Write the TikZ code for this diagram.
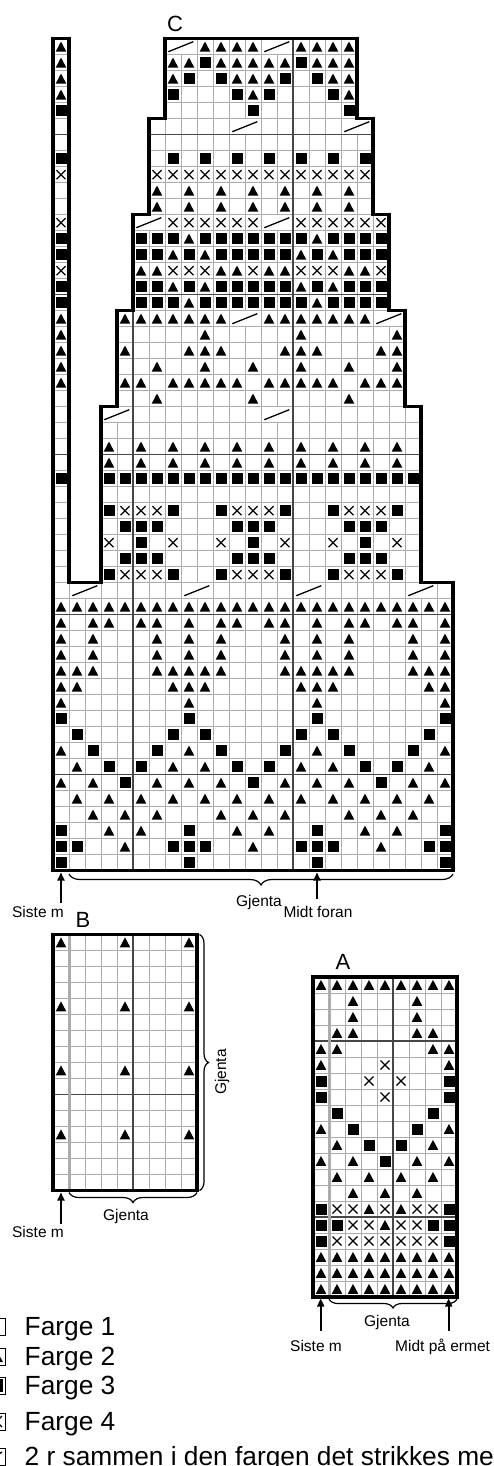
\documentclass[tikz,border=0pt]{standalone}
\usepackage{fontspec}
\setmainfont{Liberation Sans}
\usetikzlibrary{arrows.meta,decorations.pathreplacing}
\tikzset{
 gridl/.style={draw=gray!65, line width=0.8pt},
 darkl/.style={draw=black!72, line width=1.1pt},
 sepl/.style={draw=gray!65, line width=3pt},
 border/.style={draw=black, line width=3.2pt, line join=miter},
 symfill/.style={fill=black},
 symline/.style={draw=black, line width=1.3pt},
 ktog/.style={draw=black, line width=1.3pt},
 lbl/.style={font=\fontsize{15.5}{18}\selectfont, inner sep=0pt, anchor=base},
 ttl/.style={font=\fontsize{22}{26}\selectfont, inner sep=0pt, anchor=base},
 leg/.style={font=\fontsize{26.3}{30}\selectfont, inner sep=0pt, anchor=base west},
 arr/.style={-{Triangle[width=7pt,length=8pt]}, line width=1.8pt},
 brcdown/.style={decorate, decoration={brace, mirror, amplitude=#1}, line width=1.2pt},
 brcright/.style={decorate, decoration={brace, amplitude=#1}, line width=1.2pt},
 legbox/.style={draw=black, line width=1pt},
}
% grid block: x0, ytop, ncols, nrows
\newcommand\gblock[4]{%
 \foreach \gi in {0,...,#3} {\draw[gridl] (#1+16*\gi,#2) -- ++(0,16*#4);}
 \foreach \gj in {0,...,#4} {\draw[gridl] (#1,#2+16*\gj) -- ++(16*#3,0);}
}
% cell row: x0, ybottom, row, first col, list
\newcommand\cellrow[5]{%
 \foreach \s [count=\ci from #4] in {#5}{%
  \pgfmathsetmacro\cx{#1+16*\ci+8}%
  \pgfmathsetmacro\cy{#2-16*#3+8}%
  \if\s t\path[symfill] (\cx-5.3,\cy+4.9) -- (\cx+5.3,\cy+4.9) -- (\cx,\cy-5.1) -- cycle;\fi
  \if\s s\path[symfill] (\cx-5.5,\cy-5.5) rectangle (\cx+5.5,\cy+5.5);\fi
  \if\s x\draw[symline] (\cx-4.5,\cy-4.5) -- (\cx+4.5,\cy+4.5) (\cx-4.5,\cy+4.5) -- (\cx+4.5,\cy-4.5);\fi
  \if\s k\fill[white] (\cx-7.3,\cy-7.3) rectangle (\cx+23.3,\cy+7.3);
   \draw[ktog] (\cx-4.7,\cy+5) -- (\cx+20.3,\cy-5);\fi
 }}
\newcommand\crow[3]{\cellrow{53}{870.7}{#1}{#2}{#3}}
\newcommand\arow[2]{\cellrow{313}{1297}{#1}{0}{#2}}
\begin{document}
\begin{tikzpicture}[x=1pt,y=-1pt]
\useasboundingbox (0,0) rectangle (494,1466);
\clip (0,0) rectangle (494,1466);
\fill[white] (0,0) rectangle (494,1466);

% ===== Chart C grid =====
\gblock{53}{582.7}{25}{18}
\gblock{53}{38.7}{1}{34}
\gblock{101}{406.7}{20}{11}
\gblock{117}{310.7}{18}{6}
\gblock{133}{214.7}{16}{6}
\gblock{149}{118.7}{14}{6}
\gblock{165}{38.7}{12}{5}
\draw[darkl] (133,870.7) -- (133,214.7);
\draw[darkl] (293,870.7) -- (293,38.7);
\draw[darkl] (53,774.7) -- (453,774.7);
\draw[darkl] (53,614.7) -- (453,614.7);
\draw[darkl] (101,454.7) -- (421,454.7) (53,454.7) -- (69,454.7);
\draw[darkl] (133,294.7) -- (389,294.7) (53,294.7) -- (69,294.7);
\draw[darkl] (149,134.7) -- (373,134.7) (53,134.7) -- (69,134.7);

% rows 1-18
\crow{1}{0}{s,o,o,o,o,o,o,o,s,o,o,o,o,o,o,o,s,o,o,o,o,o,o,o,s}
\crow{2}{0}{s,s,o,o,t,o,o,s,s,s,o,o,t,o,o,s,s,s,o,o,t,o,o,s,s}
\crow{3}{0}{s,o,o,t,o,t,o,o,s,o,o,t,o,t,o,o,s,o,o,t,o,t,o,o,s}
\crow{4}{0}{o,o,t,o,t,o,t,o,o,o,t,o,t,o,t,o,o,o,t,o,t,o,t,o,o}
\crow{5}{0}{o,t,o,t,o,t,o,t,o,t,o,t,o,t,o,t,o,t,o,t,o,t,o,t,o}
\crow{6}{0}{t,o,t,o,s,o,t,o,t,o,t,o,s,o,t,o,t,o,t,o,s,o,t,o,t}
\crow{7}{0}{o,t,o,s,o,s,o,t,o,t,o,s,o,s,o,t,o,t,o,s,o,s,o,t,o}
\crow{8}{0}{t,o,s,o,o,o,s,o,t,o,s,o,o,o,s,o,t,o,s,o,o,o,s,o,t}
\crow{9}{0}{o,s,o,o,o,o,o,s,o,s,o,o,o,o,o,s,o,s,o,o,o,o,o,s,o}
\crow{10}{0}{s,o,o,o,o,o,o,o,s,o,o,o,o,o,o,o,s,o,o,o,o,o,o,o,s}
\crow{11}{0}{t,o,o,o,o,o,o,o,t,o,o,o,o,o,o,o,t,o,o,o,o,o,o,o,t}
\crow{12}{0}{t,t,o,o,o,o,o,t,t,t,o,o,o,o,o,t,t,t,o,o,o,o,o,t,t}
\crow{13}{0}{t,t,t,o,o,o,t,t,t,t,t,o,o,o,t,t,t,t,t,o,o,o,t,t,t}
\crow{14}{0}{t,o,t,o,o,o,t,o,t,o,t,o,o,o,t,o,t,o,t,o,o,o,t,o,t}
\crow{15}{0}{t,o,t,o,o,o,t,o,t,o,t,o,o,o,t,o,t,o,t,o,o,o,t,o,t}
\crow{16}{0}{t,o,t,t,o,t,t,o,t,o,t,t,o,t,t,o,t,o,t,t,o,t,t,o,t}
\crow{17}{0}{t,t,t,t,t,t,t,t,t,t,t,t,t,t,t,t,t,t,t,t,t,t,t,t,t}
\crow{18}{0}{o,k,n,o,o,o,o,o,k,n,o,o,o,o,o,k,n,o,o,o,o,o,k,n,o}
% rows 19-29
\crow{19}{3}{s,x,x,x,s,o,o,s,x,x,x,s,o,o,s,x,x,x,s,o}
\crow{20}{3}{o,s,s,s,o,o,o,o,s,s,s,o,o,o,o,s,s,s,o,o}
\crow{21}{3}{x,o,s,o,x,o,o,x,o,s,o,x,o,o,x,o,s,o,x,o}
\crow{22}{3}{o,s,s,s,o,o,o,o,s,s,s,o,o,o,o,s,s,s,o,o}
\crow{23}{3}{s,x,x,x,s,o,o,s,x,x,x,s,o,o,s,x,x,x,s,o}
\crow{25}{3}{s,s,s,s,s,s,s,s,s,s,s,s,s,s,s,s,s,s,s,s}
\crow{26}{3}{t,o,t,o,t,o,t,o,t,o,t,o,t,o,t,o,t,o,t,o}
\crow{27}{3}{t,o,t,o,t,o,t,o,t,o,t,o,t,o,t,o,t,o,t,o}
\crow{29}{3}{k,n,o,o,o,o,o,o,o,o,k,n}
% rows 30-35
\crow{30}{4}{o,o,t,o,o,o,o,o,t,o,o,o,o,o,t,o,o,o}
\crow{31}{4}{t,t,o,t,t,t,t,t,o,t,t,t,t,t,o,t,t,t}
\crow{32}{4}{o,o,t,o,o,t,o,o,t,o,o,t,o,o,t,o,o,t}
\crow{33}{4}{t,o,o,o,t,t,t,o,o,o,t,t,t,o,o,o,t,t}
\crow{34}{4}{o,o,o,o,o,t,o,o,o,o,o,t,o,o,o,o,o,t}
\crow{35}{4}{t,t,t,t,t,t,t,k,n,t,t,t,t,t,t,t,k,n}
% rows 36-41
\crow{36}{5}{s,s,s,t,s,s,s,s,s,s,s,t,s,s,s,s}
\crow{37}{5}{s,s,t,s,t,s,s,s,s,s,t,s,t,s,s,s}
\crow{38}{5}{t,t,x,x,x,t,t,x,t,t,x,x,x,t,t,x}
\crow{39}{5}{s,s,t,s,t,s,s,s,s,s,t,s,t,s,s,s}
\crow{40}{5}{s,s,s,t,s,s,s,s,s,s,s,t,s,s,s,s}
\crow{41}{5}{k,n,x,x,x,x,x,x,k,n,x,x,x,x,x,x}
% rows 42-47
\crow{42}{6}{t,o,t,o,t,o,t,o,t,o,t,o,t,o}
\crow{43}{6}{t,o,t,o,t,o,t,o,t,o,t,o,t,o}
\crow{44}{6}{x,x,x,x,x,x,x,x,x,x,x,x,x,x}
\crow{45}{6}{o,s,o,s,o,s,o,s,o,s,o,s,o,s}
\crow{47}{6}{o,o,o,o,o,k,n,o,o,o,o,o,k,n}
% rows 48-52
\crow{48}{7}{o,o,o,o,o,s,o,o,o,o,o,s}
\crow{49}{7}{s,o,o,o,s,t,s,o,o,o,s,t}
\crow{50}{7}{t,s,o,s,t,t,t,s,o,s,t,t}
\crow{51}{7}{t,t,s,t,t,t,t,t,s,t,t,t}
\crow{52}{7}{k,n,t,t,t,t,k,n,t,t,t,t}
% left strip (col 0)
\foreach \r in {25,36,37,39,40,45,48} {\crow{\r}{0}{s}}
\foreach \r in {31,32,33,34,35,49,50,51,52} {\crow{\r}{0}{t}}
\foreach \r in {38,41,44} {\crow{\r}{0}{x}}

\draw[border] (53,870.7) -- (53,38.7) -- (69,38.7) -- (69,582.7) -- (101,582.7)
 -- (101,406.7) -- (117,406.7) -- (117,310.7) -- (133,310.7) -- (133,214.7)
 -- (149,214.7) -- (149,118.7) -- (165,118.7) -- (165,38.7) -- (357,38.7)
 -- (357,118.7) -- (373,118.7) -- (373,214.7) -- (389,214.7) -- (389,310.7)
 -- (405,310.7) -- (405,406.7) -- (421,406.7) -- (421,582.7) -- (453,582.7)
 -- (453,870.7) -- cycle;

\node[ttl] (labC) at (175,31.7) {C};
\coordinate (bC1) at (69,874);
\coordinate (bC2) at (453,874);
\draw[brcdown=11pt] (bC1) -- (bC2);
\node[lbl] (gjC) at (259,906) {Gjenta};
\node[lbl] (sisteC) at (38,917.3) {Siste m};
\node[lbl] (midtC) at (318,917.3) {Midt foran};
\coordinate (aC1t) at (61,903);
\coordinate (aC1h) at (61,872.5);
\coordinate (aC2t) at (317,899);
\coordinate (aC2h) at (317,872.5);
\draw[arr] (aC1t) -- (aC1h);
\draw[arr] (aC2t) -- (aC2h);

% ===== Chart B =====
\gblock{53}{934.5}{9}{16}
\draw[darkl] (133,934.5) -- (133,1190.5) (53,1094.5) -- (197,1094.5);
\draw[sepl] (69,934.5) -- (69,1190.5);
\foreach \r in {4,8,12,16} {\cellrow{53}{1190.5}{\r}{0}{t,o,o,o,t,o,o,o,t}}
\draw[border] (53,934.5) rectangle (197,1190.5);
\node[ttl] (labB) at (83,927.3) {B};
\coordinate (bB1) at (199.5,934.5);
\coordinate (bB2) at (199.5,1190.5);
\draw[brcright=9pt] (bB1) -- (bB2);
\node[lbl, rotate=90, anchor=center] (gjBr) at (222,1072) {Gjenta};
\coordinate (bB3) at (69,1192.5);
\coordinate (bB4) at (197,1192.5);
\draw[brcdown=10pt] (bB3) -- (bB4);
\node[lbl] (gjB) at (126,1220.7) {Gjenta};
\coordinate (aBt) at (61,1224);
\coordinate (aBh) at (61,1192.5);
\draw[arr] (aBt) -- (aBh);
\node[lbl] (sisteB) at (38,1237) {Siste m};

% ===== Chart A =====
\gblock{313}{977}{9}{20}
\draw[darkl] (393,977) -- (393,1297) (313,1217) -- (457,1217) (313,1041) -- (457,1041);
\draw[sepl] (329,977) -- (329,1297);
\arow{1}{t,t,t,t,t,t,t,t,t}
\arow{2}{t,t,t,t,t,t,t,t,t}
\arow{3}{t,t,t,t,t,t,t,t,t}
\arow{4}{s,x,x,x,x,x,x,x,s}
\arow{5}{s,s,x,x,t,x,x,s,s}
\arow{6}{s,x,x,t,x,t,x,x,s}
\arow{7}{o,o,t,o,t,o,t,o,o}
\arow{8}{o,t,o,t,o,t,o,t,o}
\arow{9}{t,o,t,o,s,o,t,o,t}
\arow{10}{o,t,o,s,o,s,o,t,o}
\arow{11}{t,o,s,o,o,o,s,o,t}
\arow{12}{o,s,o,o,o,o,o,s,o}
\arow{13}{s,o,o,o,x,o,o,o,s}
\arow{14}{s,o,o,x,o,x,o,o,s}
\arow{15}{t,o,o,o,x,o,o,o,t}
\arow{16}{t,t,o,o,o,o,o,t,t}
\arow{17}{o,t,t,o,o,o,t,t,o}
\arow{18}{o,o,t,o,o,o,t,o,o}
\arow{19}{o,o,t,o,o,o,t,o,o}
\arow{20}{t,t,t,t,t,t,t,t,t}
\draw[border] (313,977) rectangle (457,1297);
\node[ttl] (labA) at (343,969.8) {A};
\coordinate (bA1) at (329,1299);
\coordinate (bA2) at (457,1299);
\draw[brcdown=9pt] (bA1) -- (bA2);
\node[lbl] (gjA) at (387,1326.7) {Gjenta};
\coordinate (aA1t) at (320.7,1331);
\coordinate (aA1h) at (320.7,1298.5);
\coordinate (aA2t) at (448.7,1331);
\coordinate (aA2h) at (448.7,1298.5);
\draw[arr] (aA1t) -- (aA1h);
\draw[arr] (aA2t) -- (aA2h);
\node[lbl] (sisteA) at (316,1351.7) {Siste m};
\node[lbl, anchor=base west] (midtA) at (395,1351.7) {Midt på ermet};

% ===== Legend =====
\draw[legbox] (-12,1318) rectangle (5,1335);
\node[leg] (l1) at (24.5,1335) {Farge 1};
\draw[legbox] (-12,1348) rectangle (5,1365);
\fill (-10,1362) -- (3,1362) -- (-3.5,1350.5) -- cycle;
\node[leg] (l2) at (24.5,1365) {Farge 2};
\draw[legbox] (-12,1377) rectangle (5,1394);
\fill (-10,1379) rectangle (3,1392);
\node[leg] (l3) at (24.5,1394) {Farge 3};
\draw[legbox] (-12,1413) rectangle (5,1430);
\draw[line width=1.3pt] (-9,1416) -- (2,1427) (-9,1427) -- (2,1416);
\node[leg] (l4) at (24.5,1430) {Farge 4};
\draw[legbox] (-12,1448) rectangle (5,1465);
\draw[line width=1.3pt] (-10,1460) -- (2,1452);
\node[leg] (l5) at (24.5,1465) {2 r sammen i den fargen det strikkes med};
\end{tikzpicture}
\end{document}
